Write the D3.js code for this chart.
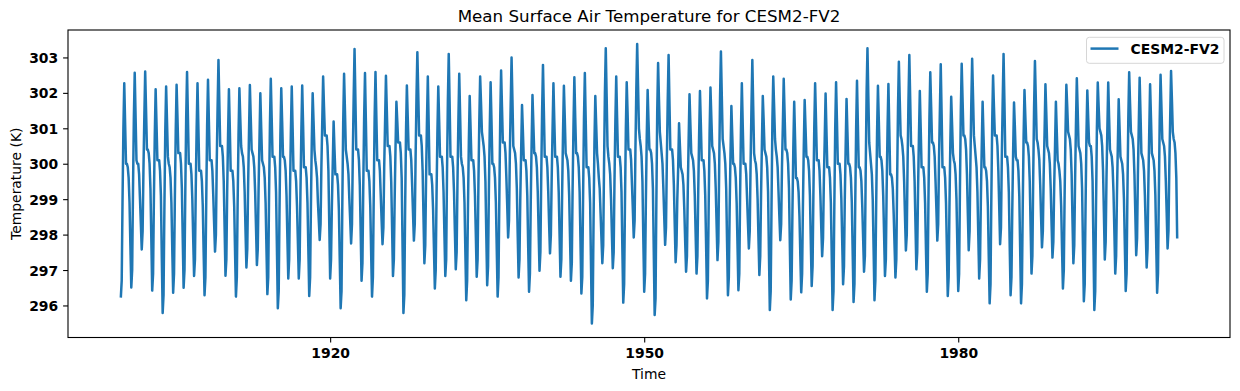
<!DOCTYPE html>
<html><head><meta charset="utf-8">
<script src="https://cdn.jsdelivr.net/npm/d3@7"></script>
<style>body{margin:0;background:#fff} svg{display:block;font-family:"DejaVu Sans",sans-serif}</style>
</head><body><svg id="chart" width="1240" height="391"></svg>
<script>
const titleText = "Mean Surface Air Temperature for CESM2-FV2";
const seriesName = "CESM2-FV2";
const xLabelText = "Time";
const yLabelText = "Temperature (K)";
const startYear = 1900;
const xTickYears = [1920, 1950, 1980];
const yTickValues = [296, 297, 298, 299, 300, 301, 302, 303];
// monthly values (Jan..Dec), one row per year from 1900 to 2000
const monthlyTemps = [
[296.22,296.7,298.9,301.0,302.27,301.1,300.0,300.0,299.9,299.6,298.9,297.7],
[296.51,297.0,299.2,301.3,302.57,301.3,300.1,300.0,300.0,299.7,299.0,298.3],
[297.58,298.1,299.8,301.3,302.60,301.5,300.4,300.4,300.3,300.0,299.3,297.9],
[296.42,296.9,299.0,300.8,302.10,301.1,300.1,300.1,300.1,299.8,299.1,297.4],
[295.79,296.3,298.7,300.9,302.18,301.2,300.2,300.0,299.9,299.6,298.9,297.6],
[296.36,296.9,299.0,300.9,302.23,301.3,300.3,300.3,300.3,300.0,299.3,297.9],
[296.50,297.0,299.2,301.3,302.59,301.3,300.0,300.0,300.0,299.7,299.0,297.9],
[296.83,297.3,299.3,301.0,302.27,301.0,299.8,299.8,299.8,299.5,298.8,297.5],
[296.29,296.8,299.0,301.1,302.37,301.2,300.1,300.1,300.1,299.8,299.1,298.3],
[297.52,298.0,300.0,301.6,302.93,301.7,300.5,300.5,300.5,300.2,299.5,298.2],
[296.84,297.3,299.2,300.8,302.10,301.0,299.8,299.8,299.8,299.5,298.8,297.5],
[296.25,296.8,298.9,300.8,302.13,301.3,300.5,300.3,300.2,299.9,299.2,298.1],
[297.07,297.6,299.4,300.9,302.22,301.3,300.4,300.3,300.2,299.9,299.2,298.2],
[297.14,297.6,299.3,300.7,301.99,301.0,300.1,300.0,299.9,299.6,298.9,297.6],
[296.32,296.8,299.1,301.1,302.40,301.3,300.2,300.2,300.2,299.9,299.2,297.6],
[295.92,296.4,298.7,300.8,302.13,301.2,300.2,300.2,300.1,299.8,299.1,297.9],
[296.76,297.3,299.2,300.9,302.18,301.0,299.8,299.8,299.8,299.5,298.8,297.8],
[296.76,297.3,299.2,300.9,302.21,301.1,299.9,299.9,299.9,299.6,298.9,297.6],
[296.27,296.8,298.8,300.7,301.99,301.2,300.4,300.1,299.9,299.6,298.9,298.4],
[297.85,298.3,299.9,301.2,302.46,301.6,300.8,300.8,300.8,300.5,299.8,298.3],
[296.76,297.3,298.8,300.0,301.19,300.4,299.7,299.7,299.7,299.4,298.7,297.3],
[295.92,296.4,298.9,301.2,302.54,301.5,300.4,300.2,300.0,299.7,299.0,298.4],
[297.75,298.3,300.2,301.9,303.24,301.8,300.4,300.4,300.4,300.1,299.4,298.1],
[296.70,297.2,299.3,301.3,302.56,301.2,299.8,299.8,299.8,299.5,298.8,297.5],
[296.25,296.8,299.1,301.3,302.59,301.3,300.1,300.1,300.1,299.8,299.1,298.4],
[297.73,298.2,299.9,301.2,302.48,301.5,300.5,300.5,300.5,300.2,299.5,298.2],
[296.83,297.3,299.0,300.5,301.75,301.2,300.6,300.6,300.6,300.3,299.6,297.7],
[295.79,296.3,298.7,300.9,302.21,301.3,300.4,300.4,300.4,300.1,299.4,298.6],
[297.83,298.3,300.2,301.9,303.15,302.0,300.8,300.8,300.8,300.5,299.8,298.5],
[297.19,297.7,299.6,301.2,302.46,301.1,299.7,299.7,299.7,299.4,298.7,297.6],
[296.48,297.0,299.1,300.9,302.18,301.2,300.2,300.2,300.2,299.9,299.2,298.0],
[296.83,297.3,299.7,301.8,303.10,301.7,300.2,300.2,300.2,299.9,299.2,298.1],
[297.02,297.5,299.5,301.2,302.54,301.4,300.2,300.0,299.9,299.6,298.9,297.5],
[296.15,296.7,298.7,300.6,301.91,301.0,300.1,300.1,300.1,299.8,299.1,298.0],
[296.81,297.3,299.4,301.2,302.46,301.7,300.9,300.7,300.5,300.2,299.5,298.0],
[296.57,297.1,299.2,301.0,302.30,301.2,300.0,300.0,299.9,299.6,298.9,297.6],
[296.25,296.8,299.1,301.3,302.63,301.6,300.6,300.6,300.6,300.3,299.6,298.8],
[297.92,298.4,300.2,301.7,303.00,301.8,300.5,300.4,300.3,300.0,299.3,298.0],
[296.79,297.3,299.0,300.4,301.66,300.9,300.1,300.1,300.1,299.8,299.1,297.7],
[296.39,296.9,298.9,300.6,301.94,301.1,300.3,300.3,300.2,299.9,299.2,298.1],
[296.98,297.5,299.6,301.5,302.79,301.5,300.2,300.2,300.2,299.9,299.2,298.3],
[297.47,298.0,299.6,301.0,302.27,301.2,300.2,300.2,300.2,299.9,299.2,298.0],
[296.81,297.3,299.2,300.9,302.20,301.3,300.3,300.2,300.1,299.8,299.1,297.9],
[296.70,297.2,299.3,301.1,302.44,301.3,300.3,300.3,300.2,299.9,299.2,297.8],
[296.34,296.8,299.1,301.3,302.56,301.2,299.9,299.9,299.9,299.6,298.9,297.2],
[295.49,296.0,298.4,300.6,301.91,301.1,300.3,300.0,299.6,299.3,298.6,297.9],
[297.19,297.7,299.9,302.0,303.26,301.9,300.5,300.2,300.0,299.7,299.0,298.0],
[297.05,297.5,299.5,301.2,302.46,301.3,300.2,300.2,300.2,299.9,299.2,297.6],
[296.08,296.6,298.9,301.0,302.30,301.4,300.4,300.4,300.4,300.1,299.4,298.7],
[297.92,298.4,300.4,302.1,303.38,302.2,301.0,300.7,300.5,300.2,299.5,297.9],
[296.39,296.9,299.0,300.8,302.08,301.2,300.4,300.4,300.3,300.0,299.3,297.5],
[295.73,296.2,298.9,301.5,302.84,301.8,300.9,300.6,300.3,300.0,299.3,298.5],
[297.71,298.2,300.1,301.8,303.07,301.7,300.4,300.4,300.4,300.1,299.4,298.3],
[297.22,297.7,299.0,299.9,301.14,300.5,299.9,299.8,299.7,299.4,298.7,297.8],
[296.95,297.4,299.2,300.7,301.96,301.1,300.3,300.2,300.1,299.8,299.1,298.0],
[296.90,297.4,299.2,300.8,302.05,301.1,300.1,300.1,300.1,299.8,299.1,297.7],
[296.20,296.7,298.9,300.9,302.15,301.3,300.5,300.4,300.3,300.0,299.3,298.3],
[297.28,297.8,299.9,301.9,303.17,301.9,300.7,300.5,300.3,300.0,299.3,297.8],
[296.29,296.8,298.7,300.3,301.63,300.8,300.0,300.0,299.9,299.6,298.9,297.7],
[296.43,296.9,299.1,301.0,302.27,301.1,300.0,300.0,300.0,299.7,299.0,298.3],
[297.61,298.1,300.0,301.6,302.93,301.6,300.3,300.1,300.0,299.7,299.0,297.9],
[296.86,297.4,299.1,300.6,301.91,301.2,300.4,300.3,300.2,299.9,299.2,297.5],
[295.87,296.4,298.8,301.2,302.46,301.6,300.7,300.4,300.2,299.9,299.2,298.5],
[297.84,298.3,299.9,301.1,302.40,301.4,300.4,300.4,300.3,300.0,299.3,297.7],
[296.17,296.7,298.7,300.5,301.75,300.7,299.6,299.6,299.5,299.2,298.5,297.4],
[296.37,296.9,298.8,300.5,301.80,301.0,300.2,300.2,300.1,299.8,299.1,297.8],
[296.55,297.1,299.1,301.0,302.27,301.2,300.1,300.1,300.1,299.8,299.1,298.2],
[297.39,297.9,299.5,300.7,301.98,300.9,299.9,299.9,299.9,299.6,298.9,297.4],
[295.87,296.4,298.8,301.0,302.30,301.2,300.0,300.0,300.0,299.7,299.0,297.8],
[296.60,297.1,299.0,300.5,301.83,300.9,300.0,300.0,299.9,299.6,298.9,297.5],
[296.10,296.6,298.9,301.0,302.34,301.1,299.9,299.9,299.8,299.5,298.8,297.9],
[296.95,297.4,299.8,302.0,303.26,301.9,300.6,300.3,300.0,299.7,299.0,297.6],
[296.15,296.7,298.9,300.9,302.20,301.2,300.2,300.2,300.1,299.8,299.1,298.0],
[296.83,297.3,299.3,301.0,302.25,301.0,299.7,299.7,299.6,299.3,298.6,297.7],
[296.79,297.3,299.5,301.6,302.88,301.8,300.8,300.7,300.5,300.2,299.5,298.5],
[297.55,298.0,300.0,301.8,303.07,301.8,300.5,300.5,300.5,300.2,299.5,298.3],
[297.02,297.5,299.3,300.8,302.05,301.0,299.9,299.9,299.9,299.6,298.9,297.6],
[296.39,296.9,299.2,301.3,302.58,301.6,300.6,300.6,300.5,300.2,299.5,298.7],
[297.83,298.3,300.1,301.5,302.81,301.4,299.9,299.9,299.9,299.6,298.9,297.6],
[296.27,296.8,298.8,300.6,301.89,301.1,300.3,300.1,300.0,299.7,299.0,297.7],
[296.41,296.9,299.3,301.5,302.82,301.8,300.8,300.8,300.7,300.4,299.7,298.6],
[297.56,298.1,300.0,301.7,302.96,301.9,300.8,300.5,300.2,299.9,299.2,298.0],
[296.76,297.3,299.0,300.5,301.75,300.8,299.9,299.9,299.8,299.5,298.8,297.4],
[296.06,296.6,299.0,301.2,302.49,301.6,300.8,300.8,300.8,300.5,299.8,298.8],
[297.73,298.2,300.2,301.8,303.10,301.7,300.2,300.2,300.2,299.9,299.2,297.7],
[296.29,296.8,298.7,300.4,301.73,301.0,300.2,300.1,300.1,299.8,299.1,297.6],
[296.06,296.6,298.8,300.8,302.08,301.3,300.6,300.6,300.5,300.2,299.5,298.2],
[296.90,297.4,299.6,301.6,302.90,301.8,300.7,300.6,300.4,300.1,299.4,298.5],
[297.64,298.1,299.7,300.9,302.24,301.4,300.5,300.4,300.3,300.0,299.3,298.3],
[297.35,297.8,299.3,300.5,301.75,300.9,300.1,300.0,299.8,299.5,298.8,297.6],
[296.48,297.0,299.1,300.9,302.23,301.6,300.9,300.8,300.7,300.4,299.7,298.4],
[297.19,297.7,299.5,301.1,302.41,301.5,300.5,300.4,300.3,300.0,299.3,297.7],
[296.12,296.6,298.8,300.8,302.07,301.3,300.6,300.5,300.5,300.2,299.5,297.7],
[295.87,296.4,298.8,301.0,302.29,301.6,301.0,300.9,300.8,300.5,299.8,298.6],
[297.30,297.8,299.6,301.0,302.29,301.3,300.4,300.3,300.2,299.9,299.2,298.1],
[296.90,297.4,299.1,300.5,301.82,301.0,300.2,300.1,300.0,299.7,299.0,297.7],
[296.41,296.9,299.2,301.3,302.58,301.7,300.9,300.8,300.7,300.4,299.7,298.6],
[297.42,297.9,299.7,301.1,302.43,301.4,300.3,300.2,300.1,299.8,299.1,298.1],
[297.07,297.6,299.4,300.9,302.24,301.3,300.3,300.2,300.1,299.8,299.1,297.7],
[296.36,296.9,299.1,301.2,302.51,301.6,300.7,300.6,300.5,300.2,299.5,298.6],
[297.61,298.1,299.9,301.3,302.62,301.8,300.9,300.7,300.6,300.3,299.6,297.89]
];

const data = [];
monthlyTemps.forEach((row, i) => row.forEach((v, m) => {
  data.push({ date: new Date(Date.UTC(startYear + i, m, 1)), value: v });
}));

const svg = d3.select("#chart");
const L = 68, R = 1230, T = 30, B = 337.5;
const FS = 13.9;
const LW = 2.5;

const xExt = d3.extent(data, d => d.date);
const xSpan = xExt[1] - xExt[0];
const x = d3.scaleUtc()
  .domain([new Date(+xExt[0] - 0.05 * xSpan), new Date(+xExt[1] + 0.05 * xSpan)])
  .range([L, R]);
const yExt = d3.extent(data, d => d.value);
const ySpan = yExt[1] - yExt[0];
const y = d3.scaleLinear()
  .domain([yExt[0] - 0.05 * ySpan, yExt[1] + 0.05 * ySpan])
  .range([B, T]);

// line
svg.append("path")
  .datum(data)
  .attr("fill", "none")
  .attr("stroke", "#1f77b4")
  .attr("stroke-width", LW)
  .attr("stroke-linejoin", "round")
  .attr("d", d3.line().x(d => x(d.date)).y(d => y(d.value)));

// x axis
const xAxis = svg.append("g")
  .attr("transform", `translate(0,${B})`)
  .call(d3.axisBottom(x)
    .tickValues(xTickYears.map(yr => new Date(Date.UTC(yr, 0, 1))))
    .tickFormat(d3.utcFormat("%Y"))
    .tickSize(4.9).tickPadding(4.9).tickSizeOuter(0));
xAxis.select(".domain").remove();
xAxis.selectAll(".tick line").attr("stroke", "#000").attr("stroke-width", 1.1);
xAxis.selectAll(".tick text")
  .attr("font-family", "DejaVu Sans").attr("font-size", FS).attr("font-weight", "bold")
  .attr("fill", "#000").attr("dy", "0.76em");

// y axis
const yAxis = svg.append("g")
  .attr("transform", `translate(${L},0)`)
  .call(d3.axisLeft(y).tickValues(yTickValues).tickFormat(d3.format("d"))
    .tickSize(4.9).tickPadding(4.9).tickSizeOuter(0));
yAxis.select(".domain").remove();
yAxis.selectAll(".tick line").attr("stroke", "#000").attr("stroke-width", 1.1);
yAxis.selectAll(".tick text")
  .attr("font-family", "DejaVu Sans").attr("font-size", FS).attr("font-weight", "bold")
  .attr("fill", "#000").attr("dy", "0.36em");

// frame
svg.append("rect")
  .attr("x", L).attr("y", T).attr("width", R - L).attr("height", B - T)
  .attr("fill", "none").attr("stroke", "#000").attr("stroke-width", 1.1);

// title and labels
svg.append("text")
  .attr("x", (L + R) / 2).attr("y", 21.7).attr("text-anchor", "middle")
  .attr("font-size", 16.7).attr("fill", "#000").text(titleText);
svg.append("text")
  .attr("x", (L + R) / 2).attr("y", 379).attr("text-anchor", "middle")
  .attr("font-size", FS).attr("fill", "#000").text(xLabelText);
svg.append("text")
  .attr("transform", `translate(21,${(T + B) / 2}) rotate(-90)`)
  .attr("text-anchor", "middle")
  .attr("font-size", FS).attr("fill", "#000").text(yLabelText);

// legend
const lg = svg.append("g");
lg.append("rect")
  .attr("x", 1086.5).attr("y", 37.3).attr("width", 137.5).attr("height", 26)
  .attr("rx", 2.8).attr("ry", 2.8)
  .attr("fill", "#fff").attr("fill-opacity", 0.8)
  .attr("stroke", "#d6d6d6").attr("stroke-width", 1);
lg.append("line")
  .attr("x1", 1090.5).attr("x2", 1118.5).attr("y1", 48.6).attr("y2", 48.6)
  .attr("stroke", "#1f77b4").attr("stroke-width", LW);
lg.append("text")
  .attr("x", 1130.5).attr("y", 53.6)
  .attr("font-size", FS).attr("font-weight", "bold").attr("fill", "#000")
  .text(seriesName);
</script>
</body></html>
